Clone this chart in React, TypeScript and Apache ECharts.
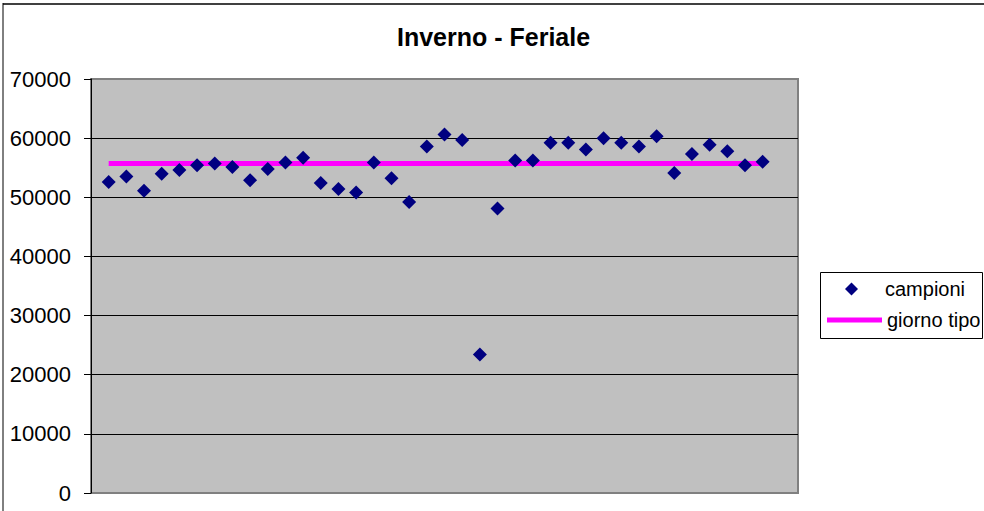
import React, { useEffect, useRef } from "react";
import * as echarts from "echarts";

const titleText = "Inverno - Feriale";
const seriesNames = ["campioni", "giorno tipo"];
const sampleIndex = [
  1, 2, 3, 4, 5, 6, 7, 8, 9, 10, 11, 12, 13, 14, 15, 16, 17, 18, 19,
  20, 21, 22, 23, 24, 25, 26, 27, 28, 29, 30, 31, 32, 33, 34, 35, 36, 37, 38,
];
const sampleValues = [
  52600, 53500, 51100, 54000, 54600, 55400, 55700, 55100, 52900, 54800,
  55900, 56700, 52400, 51400, 50800, 55900, 53200, 49200, 58600, 60600,
  59700, 23400, 48100, 56200, 56200, 59200, 59200, 58100, 60000, 59200,
  58600, 60300, 54100, 57300, 58900, 57800, 55400, 56000,
];
const typicalDayX = [1, 38];
const typicalDayValue = [55700, 55700];
const yTicks = [0, 10000, 20000, 30000, 40000, 50000, 60000, 70000];

export default function App() {
  const ref = useRef<HTMLDivElement>(null);
  useEffect(() => {
    document.body.style.margin = "0";
    const chart = echarts.init(ref.current!, null, { renderer: "svg" });
    const font = "'Liberation Sans', Arial, sans-serif";
    chart.setOption({
      animation: false,
      backgroundColor: "#ffffff",
      title: {
        text: titleText,
        left: 397,
        top: 24,
        padding: 0,
        textStyle: { fontFamily: font, fontSize: 25, fontWeight: "bold", color: "#000" },
      },
      grid: {
        left: 91,
        top: 79,
        right: 186,
        bottom: 18,
        show: true,
        backgroundColor: "#C0C0C0",
        borderColor: "#808080",
        borderWidth: 2,
        containLabel: false,
      },
      xAxis: { type: "value", min: 0, max: 40, show: false },
      yAxis: {
        type: "value",
        min: yTicks[0],
        max: yTicks[yTicks.length - 1],
        interval: 10000,
        axisLine: { show: true, lineStyle: { color: "#000", width: 1 } },
        axisTick: { show: true, length: 7, lineStyle: { color: "#000" } },
        axisLabel: {
          margin: 20,
          fontFamily: font,
          fontSize: 22,
          color: "#000",
          formatter: (v: number) => String(v),
        },
        splitLine: { show: true, showMinLine: false, showMaxLine: false, lineStyle: { color: "#000", width: 1 } },
      },
      legend: [
        {
          data: [{ name: seriesNames[0], icon: "diamond" }],
          left: 845,
          top: 279,
          padding: 0,
          itemWidth: 13,
          itemHeight: 13,
          itemStyle: { opacity: 1 },
          textStyle: { fontFamily: font, fontSize: 20, color: "#000", padding: [0, 0, 0, 22] },
          selectedMode: false,
        },
        {
          data: [{ name: seriesNames[1], icon: "rect" }],
          left: 827,
          top: 310,
          padding: 0,
          itemWidth: 55,
          itemHeight: 5,
          textStyle: { fontFamily: font, fontSize: 20, color: "#000" },
          selectedMode: false,
        },
      ],
      graphic: [
        { type: "line", z: 0, shape: { x1: 3, y1: 4, x2: 984, y2: 4 }, style: { stroke: "#000", lineWidth: 1.5 } },
        { type: "line", z: 0, shape: { x1: 3, y1: 3, x2: 3, y2: 511 }, style: { stroke: "#000", lineWidth: 1 } },
        { type: "rect", z: 0, shape: { x: 820.5, y: 272.5, width: 162, height: 66 }, style: { fill: "#fff", stroke: "#000", lineWidth: 1 } },
      ],
      series: [
        {
          name: seriesNames[1],
          type: "line",
          data: typicalDayX.map((x, i) => [x, typicalDayValue[i]]),
          symbol: "none",
          lineStyle: { color: "#FF00FF", width: 5 },
          itemStyle: { color: "#FF00FF" },
          z: 2,
        },
        {
          name: seriesNames[0],
          type: "scatter",
          data: sampleIndex.map((x, i) => [x, sampleValues[i]]),
          symbol: "diamond",
          symbolSize: 14,
          itemStyle: { color: "#000080", opacity: 1 },
          z: 3,
        },
      ],
    });
    return () => chart.dispose();
  }, []);
  return <div ref={ref} style={{ width: 984, height: 511 }} />;
}
